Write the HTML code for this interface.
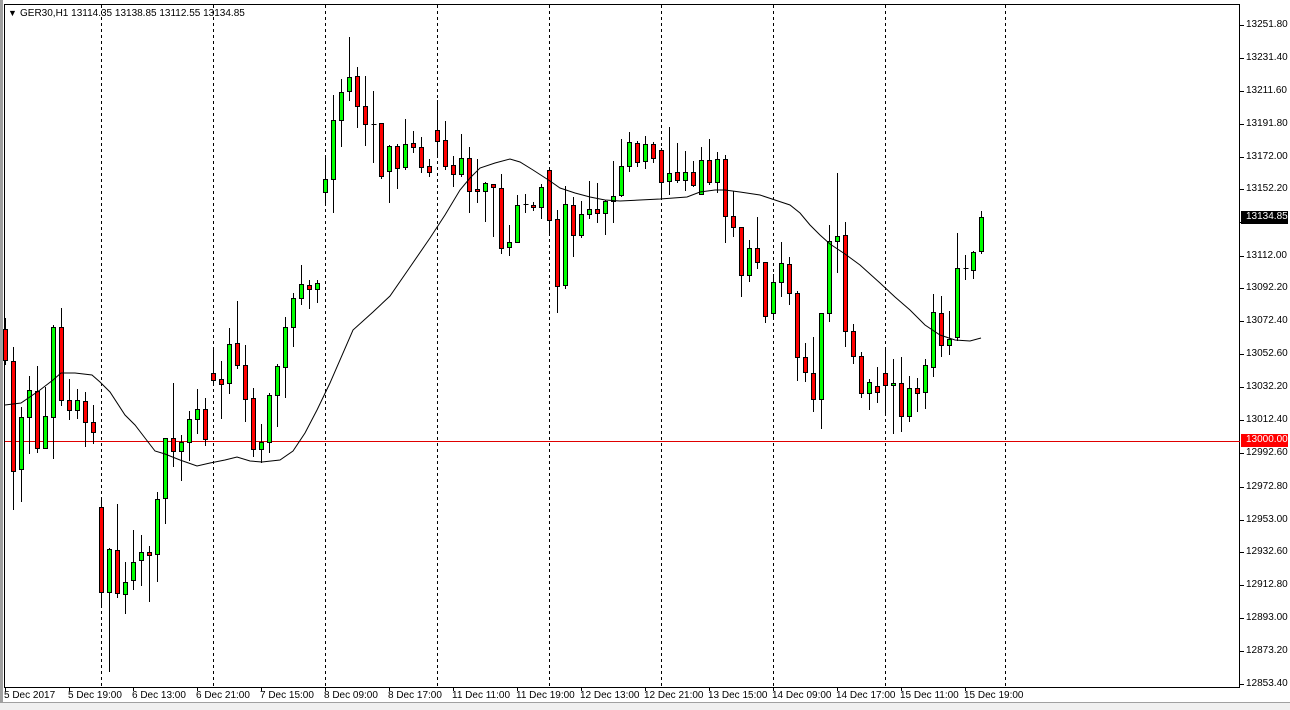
<!DOCTYPE html>
<html><head><meta charset="utf-8"><style>
html,body{margin:0;padding:0;background:#fff;width:1290px;height:710px;overflow:hidden;font-family:"Liberation Sans",sans-serif;}
#wrap{position:relative;width:1290px;height:710px;}
.ax{position:absolute;font-size:10px;color:#000;white-space:nowrap;}
</style></head><body><div id="wrap">
<svg id="s" width="1290" height="710" style="position:absolute;left:0;top:0" xmlns="http://www.w3.org/2000/svg" shape-rendering="crispEdges">
<rect x="0" y="0" width="1290" height="710" fill="#fff"/>
<rect x="0" y="0" width="3" height="710" fill="#a0a0a0"/>
<rect x="0" y="702" width="1290" height="8" fill="#f0f0f0"/>
<line x1="0" y1="702.5" x2="1290" y2="702.5" stroke="#a0a0a0"/>
<rect x="4.5" y="4.5" width="1235" height="683" fill="none" stroke="#000"/>
<g id="grid" stroke="#000" stroke-dasharray="3,3"></g>
<line x1="5" y1="441.5" x2="1240" y2="441.5" stroke="#e00000"/>
<g id="c"></g>
<polyline id="ma" fill="none" stroke="#000" stroke-width="1" shape-rendering="auto"/>
<g id="ticks" stroke="#000"></g>
<rect x="1241" y="434" width="47" height="13" fill="#ff0000"/>
<rect x="1241" y="211" width="47" height="13" fill="#000"/>
<text x="8" y="16" font-size="9" fill="#000">▼</text>
<text x="20" y="16" font-size="10" font-family="Liberation Sans, sans-serif" fill="#000">GER30,H1  13114.35 13138.85 13112.55 13134.85</text>
</svg>
<div class="ax" style="left:1246px;top:19px">13251.80</div>
<div class="ax" style="left:1246px;top:52px">13231.40</div>
<div class="ax" style="left:1246px;top:85px">13211.60</div>
<div class="ax" style="left:1246px;top:118px">13191.80</div>
<div class="ax" style="left:1246px;top:151px">13172.00</div>
<div class="ax" style="left:1246px;top:183px">13152.20</div>
<div class="ax" style="left:1246px;top:250px">13112.00</div>
<div class="ax" style="left:1246px;top:282px">13092.20</div>
<div class="ax" style="left:1246px;top:315px">13072.40</div>
<div class="ax" style="left:1246px;top:348px">13052.60</div>
<div class="ax" style="left:1246px;top:381px">13032.20</div>
<div class="ax" style="left:1246px;top:414px">13012.40</div>
<div class="ax" style="left:1246px;top:447px">12992.60</div>
<div class="ax" style="left:1246px;top:481px">12972.80</div>
<div class="ax" style="left:1246px;top:514px">12953.00</div>
<div class="ax" style="left:1246px;top:546px">12932.60</div>
<div class="ax" style="left:1246px;top:579px">12912.80</div>
<div class="ax" style="left:1246px;top:612px">12893.00</div>
<div class="ax" style="left:1246px;top:645px">12873.20</div>
<div class="ax" style="left:1246px;top:678px">12853.40</div>
<div class="ax" style="left:1246px;top:211px;color:#fff">13134.85</div>
<div class="ax" style="left:1246px;top:434px;color:#fff">13000.00</div>
<div class="ax" style="left:4px;top:690px">5 Dec 2017</div>
<div class="ax" style="left:68px;top:690px">5 Dec 19:00</div>
<div class="ax" style="left:132px;top:690px">6 Dec 13:00</div>
<div class="ax" style="left:196px;top:690px">6 Dec 21:00</div>
<div class="ax" style="left:260px;top:690px">7 Dec 15:00</div>
<div class="ax" style="left:324px;top:690px">8 Dec 09:00</div>
<div class="ax" style="left:388px;top:690px">8 Dec 17:00</div>
<div class="ax" style="left:452px;top:690px">11 Dec 11:00</div>
<div class="ax" style="left:516px;top:690px">11 Dec 19:00</div>
<div class="ax" style="left:580px;top:690px">12 Dec 13:00</div>
<div class="ax" style="left:644px;top:690px">12 Dec 21:00</div>
<div class="ax" style="left:708px;top:690px">13 Dec 15:00</div>
<div class="ax" style="left:772px;top:690px">14 Dec 09:00</div>
<div class="ax" style="left:836px;top:690px">14 Dec 17:00</div>
<div class="ax" style="left:900px;top:690px">15 Dec 11:00</div>
<div class="ax" style="left:964px;top:690px">15 Dec 19:00</div>
</div>
<script>
var D=[[329,360,318,365],[361,471,347,510],[469,417,407,502],[417,390,376,454],[391,448,366,453],[448,416,387,449],[417,327,325,459],[327,400,308,406],[400,410,379,420],[410,400,389,419],[401,422,392,447],[422,432,405,444],
[507,592,497,607],[592,549,548,672],[550,593,504,598],[594,582,562,614],[580,562,530,590],[560,552,535,586],[552,555,546,602],[554,499,492,582],[498,438,438,524],[438,451,383,467],[451,442,435,481],[442,419,411,461],[419,409,389,434],[409,439,398,446],
[373,380,350,384],[379,384,361,419],[383,344,328,394],[343,365,301,369],[365,399,345,422],[398,449,388,457],[449,442,424,463],[442,395,393,453],[395,366,364,427],[367,327,317,398],[327,298,293,347],[298,284,265,305],[285,289,280,309],[289,283,280,303],
[192,179,155,204],[179,120,95,213],[120,92,79,147],[91,77,37,101],[76,106,67,128],[106,124,76,146],[124,124,91,163],[123,176,123,179],[171,146,145,203],[146,168,144,189],[167,144,119,170],[143,147,131,153],[147,167,137,173],[166,172,159,177],
[130,141,100,157],[140,166,121,170],[165,174,156,187],[174,158,134,177],[158,191,147,213],[189,191,159,203],[191,183,182,222],[184,187,184,237],[188,248,174,254],[247,242,225,256],[242,205,195,242],[204,204,194,213],[205,207,202,211],[207,187,184,219],
[170,220,168,234],[219,286,210,313],[285,204,186,289],[205,235,197,257],[235,214,201,238],[214,209,181,219],[209,213,183,223],[213,201,200,235],[201,196,161,223],
[195,166,139,197],[166,142,132,172],[143,162,141,167],[161,144,136,169],[144,158,142,163],[150,182,148,200],[181,173,127,195],[172,180,143,183],[180,172,151,191],[172,185,161,187],[194,160,147,195],[160,182,139,185],[182,159,152,193],
[159,216,155,243],[216,227,191,237],[227,275,227,297],[275,248,240,282],[248,262,217,269],[262,316,262,323],[313,282,274,320],[282,263,242,297],[264,293,257,305],[293,357,291,381],[357,372,343,382],
[373,399,337,412],[399,313,313,429],[313,241,225,322],[241,236,173,273],[235,331,222,347],[331,356,324,364],[356,393,352,398],[393,382,379,410],[386,392,367,403],[373,385,347,414],[385,383,359,434],[383,416,357,432],[416,388,376,422],[388,393,378,412],[392,365,359,409],[367,312,294,377],[313,345,296,357],[345,339,311,355],[337,268,233,341],[268,268,255,280],[270,252,251,279],[251,217,211,254]];
var g=document.getElementById('c'),h='';
D.forEach(function(d,k){var x=5+8*k+0.5;var o=d[0],c=d[1],hi=d[2],lo=d[3];var t=Math.min(o,c),b=Math.max(o,c);
h+='<line x1="'+x+'" y1="'+hi+'" x2="'+x+'" y2="'+lo+'" stroke="#000"/>';
if(b-t<1){h+='<line x1="'+(x-2)+'" y1="'+(t+0.5)+'" x2="'+(x+3)+'" y2="'+(t+0.5)+'" stroke="#000"/>';}
else h+='<rect x="'+(x-2)+'" y="'+(t+0.5)+'" width="4" height="'+(b-t)+'" fill="'+(o>c?'#00ff00':'#ff0000')+'" stroke="#000"/>';});
g.innerHTML=h;
var gr='';[101.5,213.5,325.5,437.5,549.5,661.5,773.5,885.5,1005.5].forEach(function(x){gr+='<line x1="'+x+'" y1="5" x2="'+x+'" y2="687"/>';});
document.getElementById('grid').innerHTML=gr;
var tk='';[19.5,52.5,85.5,118.5,151.5,183.5,216.5,250.5,282.5,315.5,348.5,381.5,414.5,447.5,481.5,514.5,546.5,579.5,612.5,645.5,678.5].forEach(function(y){tk+='<line x1="1240" y1="'+(y+6)+'" x2="1244" y2="'+(y+6)+'"/>';});
for(var i=0;i<16;i++){var x=5.5+64*i;tk+='<line x1="'+x+'" y1="687" x2="'+x+'" y2="691"/>';}
document.getElementById('ticks').innerHTML=tk;
document.getElementById('ma').setAttribute('points',"5,405 21,403 40,390 53,380 61,373 75,373 92,375 100,382 110,392 125,415 135,425 145,438 155,451 165,454 180,460 197,466 210,463 225,460 237,457 250,461 262,462 280,460 293,451 305,433 317,410 330,383 353,330 373,312 390,296 408,270 430,238 445,215 460,190 470,178 480,168 495,163 510,159 520,162 533,170 550,181 560,188 575,193 590,197 605,200 620,201 640,200 660,199 687,197 700,192 715,190 725,190 740,192 760,195 775,200 790,205 800,213 810,225 820,235 830,244 845,254 860,265 880,283 895,297 910,310 925,325 940,335 955,340 970,341 981,338");
</script>
</body></html>
